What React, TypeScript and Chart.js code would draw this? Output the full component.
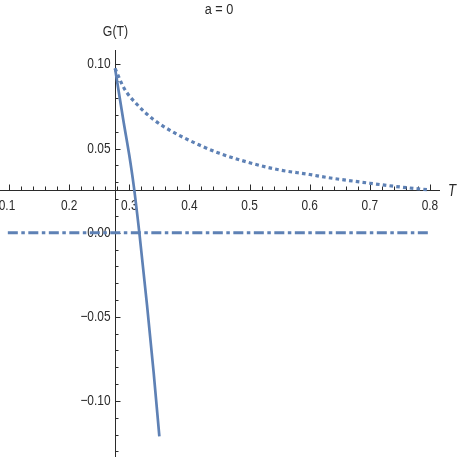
import React, { useEffect, useRef } from "react";
import { Chart, registerables } from "chart.js";
Chart.register(...registerables);

// ---- data ----
const solidT = [0.2763, 0.2834, 0.2905, 0.3, 0.3072, 0.3167, 0.3295, 0.3405, 0.35];
const solidG = [0.0977, 0.0817, 0.066, 0.046, 0.0284, 0, -0.043, -0.083, -0.121];

const dottedT = [0.2763, 0.2913, 0.3138, 0.3405, 0.3695, 0.4167, 0.45, 0.5, 0.55, 0.6, 0.6278, 0.7, 0.75, 0.8];
const dottedG = [0.0977, 0.0859, 0.0759, 0.0672, 0.0605, 0.0521, 0.0472, 0.0416, 0.0373, 0.0346, 0.0329, 0.0294, 0.0272, 0.0254];

const dashDotT = [0.098, 0.8];
const dashDotG = [0, 0];

const xMajorTicks = [0.1, 0.2, 0.3, 0.4, 0.5, 0.6, 0.7, 0.8];
const xTickLabels = ["0.1", "0.2", "0.3", "0.4", "0.5", "0.6", "0.7", "0.8"];
const yMajorTicks = [0.1, 0.05, 0, -0.05, -0.1];
const yTickLabels = ["0.10", "0.05", "0.00", "\u22120.05", "\u22120.10"];

const axisCrossX = 0.2763;
const axisCrossY = 0.0254;

const titleText = "a = 0";
const yAxisLabel = "G(T)";
const xAxisLabel = "T";

const LINE = "#5E81B5";
const AXIS = "#2b2b2b";
const FONT = "'Liberation Sans', Arial, sans-serif";
const SQUEEZE = 0.82;

function narrowText(ctx: any, text: string, x: number, y: number, font: string, align: string, baseline: string) {
  ctx.save();
  ctx.font = font;
  ctx.textAlign = align;
  ctx.textBaseline = baseline;
  ctx.translate(x, y);
  ctx.scale(SQUEEZE, 1);
  ctx.fillText(text, 0, 0);
  ctx.restore();
}

const axesPlugin = {
  id: "mmaAxes",
  beforeDatasetsDraw(chart: any) {
    const { ctx, chartArea } = chart;
    const xs = chart.scales.x;
    const ys = chart.scales.y;
    const ox = Math.round(xs.getPixelForValue(axisCrossX)) + 0.5;
    const oy = Math.round(ys.getPixelForValue(axisCrossY)) + 0.5;
    ctx.save();
    ctx.strokeStyle = AXIS;
    ctx.lineWidth = 1;
    ctx.beginPath();
    ctx.moveTo(chartArea.left, oy);
    ctx.lineTo(chartArea.right, oy);
    ctx.moveTo(ox, chartArea.top);
    ctx.lineTo(ox, chartArea.bottom);
    for (let i = 0; i <= 35; i++) {
      const v = 0.1 + i * 0.02;
      const px = Math.round(xs.getPixelForValue(v)) + 0.5;
      const major = i % 5 === 0;
      ctx.moveTo(px, oy);
      ctx.lineTo(px, oy - (major ? 6 : 4));
    }
    for (let i = -13; i <= 10; i++) {
      const v = i * 0.01;
      const py = Math.round(ys.getPixelForValue(v)) + 0.5;
      const major = i % 5 === 0;
      ctx.moveTo(ox, py);
      ctx.lineTo(ox + (major ? 5 : 3), py);
    }
    ctx.stroke();

    ctx.fillStyle = AXIS;
    xMajorTicks.forEach((v, i) => {
      narrowText(ctx, xTickLabels[i], xs.getPixelForValue(v) - (i === 0 ? 2 : 0), oy + 8, `14.5px ${FONT}`, "center", "top");
    });
    yMajorTicks.forEach((v, i) => {
      narrowText(ctx, yTickLabels[i], ox - 5, ys.getPixelForValue(v), `14.5px ${FONT}`, "right", "middle");
    });
    narrowText(ctx, yAxisLabel, ox, 32, `15px ${FONT}`, "center", "middle");
    narrowText(ctx, titleText, 219, 10, `15.5px ${FONT}`, "center", "middle");
    narrowText(ctx, xAxisLabel, 452, oy + 1, `italic 16px ${FONT}`, "center", "middle");
    ctx.restore();
  },
};

export default function App() {
  const ref = useRef<HTMLCanvasElement>(null);
  useEffect(() => {
    document.body.style.margin = "0";
    const canvas = ref.current!;
    const chart = new Chart(canvas, {
      type: "line",
      data: {
        datasets: [
          {
            data: dashDotT.map((t, i) => ({ x: t, y: dashDotG[i] })),
            borderColor: LINE,
            borderWidth: 3,
            borderDash: [10, 3.5, 3.5, 3.5],
            pointRadius: 0,
            fill: false,
          },
          {
            data: dottedT.map((t, i) => ({ x: t, y: dottedG[i] })),
            borderColor: LINE,
            borderWidth: 3.2,
            borderDash: [3.6, 3.2],
            cubicInterpolationMode: "monotone",
            pointRadius: 0,
            fill: false,
          },
          {
            data: solidT.map((t, i) => ({ x: t, y: solidG[i] })),
            borderColor: LINE,
            borderWidth: 2.7,
            cubicInterpolationMode: "monotone",
            pointRadius: 0,
            fill: false,
          },
        ],
      },
      options: {
        animation: false,
        responsive: false,
        devicePixelRatio: 1,
        layout: { padding: { left: 0, right: 18, top: 50, bottom: 1 } },
        plugins: { legend: { display: false }, tooltip: { enabled: false }, title: { display: false } },
        scales: {
          x: { type: "linear", min: 0.085, max: 0.8167, display: false },
          y: { type: "linear", min: -0.1333, max: 0.1086, display: false },
        },
        elements: { line: { borderCapStyle: "butt" } },
      },
      plugins: [axesPlugin],
    });
    return () => chart.destroy();
  }, []);
  return <canvas ref={ref} width={458} height={458} style={{ display: "block" }} />;
}
